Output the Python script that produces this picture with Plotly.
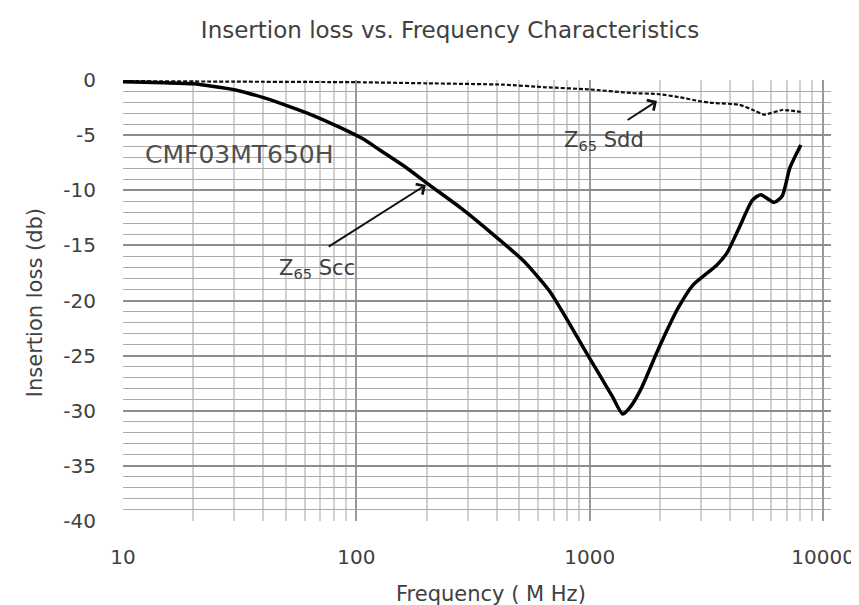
import plotly.graph_objects as go

# ---- data ----
scc_freq = [10, 15, 20, 30, 40, 50, 65, 85, 108, 125, 160, 208, 280, 385, 520, 670,
            840, 923, 1010, 1120, 1250, 1385, 1500, 1670, 1950, 2390, 2770, 3500, 3870,
            4370, 4980, 5400, 6170, 6690, 7200, 8030]
scc_loss = [-0.15, -0.25, -0.35, -0.88, -1.6, -2.3, -3.2, -4.3, -5.4, -6.3, -7.8, -9.6,
            -11.6, -14.0, -16.4, -19.1, -22.5, -24.0, -25.4, -27.0, -28.7, -30.3, -29.6,
            -27.9, -24.6, -20.7, -18.6, -16.8, -15.7, -13.4, -10.9, -10.4, -11.1, -10.5,
            -8.0, -5.9]

sdd_freq = [10, 30, 100, 200, 425, 650, 990, 1510, 1950, 2440, 2970, 3370, 4370, 4980,
            5600, 6690, 8030]
sdd_loss = [-0.1, -0.15, -0.2, -0.3, -0.42, -0.66, -0.85, -1.18, -1.27, -1.57, -1.93,
            -2.08, -2.24, -2.69, -3.14, -2.72, -2.9]

x_tickvals = [10, 100, 1000, 10000]
x_ticktext = ["10", "100", "1000", "10000"]
y_tickvals = [0, -5, -10, -15, -20, -25, -30, -35, -40]
y_ticktext = ["0", "-5", "-10", "-15", "-20", "-25", "-30", "-35", "-40"]

title_text = "Insertion loss vs. Frequency Characteristics"
x_title = "Frequency ( M Hz)"
y_title = "Insertion loss (db)"
part_label = "CMF03MT650H"
scc_label = "Z<sub>65</sub> Scc"
sdd_label = "Z<sub>65</sub> Sdd"

minor_x = [m * d for d in (10, 100, 1000) for m in range(2, 10)]

FONT = "DejaVu Sans"
TXT = "#404040"

fig = go.Figure()
fig.add_trace(go.Scatter(x=sdd_freq, y=sdd_loss, mode="lines",
                         line=dict(color="#111111", width=2.2, dash="4px,2px",
                                   shape="spline", smoothing=0.5),
                         showlegend=False))
fig.add_trace(go.Scatter(x=scc_freq, y=scc_loss, mode="lines",
                         line=dict(color="#000000", width=3.5, shape="spline", smoothing=0.6),
                         showlegend=False))

fig.update_layout(
    width=859, height=605,
    margin=dict(l=115, r=26, t=72, b=92),
    paper_bgcolor="white", plot_bgcolor="white",
    font=dict(family=FONT, color=TXT, size=20),
    title=dict(text=title_text, x=0.5146, xanchor="center", y=1 - 22 / 605,
               yanchor="middle", font=dict(size=23, color=TXT, family=FONT)),
    showlegend=False,
)
fig.update_xaxes(type="log", range=[1, 4.034], tickmode="array", tickvals=x_tickvals,
                 ticktext=x_ticktext, showgrid=True, gridcolor="#9a9a9a", gridwidth=1.5,
                 minor=dict(tickmode="array", tickvals=minor_x, showgrid=True,
                            gridcolor="#d0d0d0", gridwidth=2),
                 showline=False, zeroline=False, ticks="", ticklabelstandoff=22,
                 tickfont=dict(size=20, color=TXT, family=FONT))
fig.update_yaxes(range=[-40, 0], tickmode="array", tickvals=y_tickvals,
                 ticktext=y_ticktext, showgrid=True,
                 gridcolor="#8c8c8c", gridwidth=1.5,
                 minor=dict(dtick=1, showgrid=True, gridcolor="#ababab", gridwidth=1),
                 showline=False, zeroline=False, ticks="", ticklabelstandoff=26,
                 tickfont=dict(size=20, color=TXT, family=FONT))

ann = []
ann.append(dict(text=x_title, xref="paper", yref="paper", x=0.52, y=0, yshift=-73,
                xanchor="center", yanchor="middle", showarrow=False, borderpad=0,
                font=dict(size=21, color=TXT)))
ann.append(dict(text=y_title, xref="paper", yref="paper", x=0, y=0.494, xshift=-88,
                xanchor="center", yanchor="middle", textangle=-90, showarrow=False,
                font=dict(size=21, color=TXT)))
ann.append(dict(text=part_label, x=1.4986, y=-6.8, xref="x", yref="y", showarrow=False,
                font=dict(size=25, color="#505050")))
ann.append(dict(text=scc_label, x=1.8325, y=-17.14, xref="x", yref="y", showarrow=False,
                font=dict(size=21, color=TXT)))
ann.append(dict(text=sdd_label, x=3.062, y=-5.53, xref="x", yref="y", showarrow=False,
                font=dict(size=21, color=TXT)))
# arrows
ann.append(dict(text="", x=2.298, y=-9.52, ax=1.875, ay=-15.2, xref="x", yref="y",
                axref="x", ayref="y", showarrow=True, arrowhead=4, arrowsize=1.2,
                arrowwidth=2, arrowcolor="#111111"))
ann.append(dict(text="", x=3.288, y=-1.9, ax=3.156, ay=-3.72, xref="x", yref="y",
                axref="x", ayref="y", showarrow=True, arrowhead=4, arrowsize=1.2,
                arrowwidth=2, arrowcolor="#111111"))
fig.update_layout(annotations=ann)

fig.write_html("out.html")
